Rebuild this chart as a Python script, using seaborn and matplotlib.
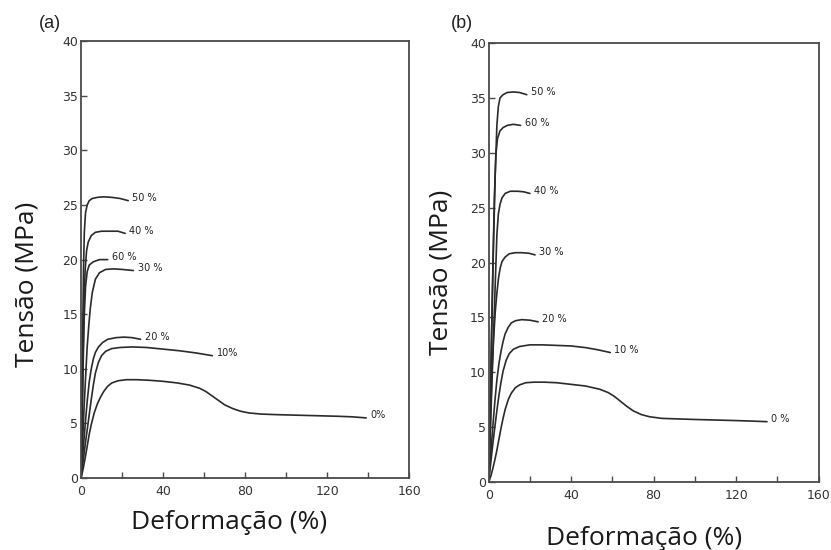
import matplotlib
matplotlib.use("Agg")
import matplotlib.pyplot as plt
import numpy as np
import pandas as pd
import seaborn as sns
from matplotlib.ticker import MultipleLocator

# ---- data (strain %, stress MPa) ----
# panel (a)
a_names = ["50 %", "40 %", "60 %", "30 %", "20 %", "10%", "0%"]
a_x = [
    [0, 0.4, 0.8, 1.2, 1.6, 2.2, 3, 4, 5.5, 8, 11, 15, 19, 23],
    [0, 0.5, 1, 1.5, 2, 2.7, 3.5, 5, 7, 10, 14, 18, 21.5],
    [0, 0.5, 1, 1.5, 2.2, 3, 4, 6, 9, 13],
    [0, 0.7, 1.5, 2.3, 3, 3.8, 4.5, 5.5, 7, 9, 12, 16, 20, 25.5],
    [0, 1, 2, 3, 4, 5, 6, 7, 8.5, 10.5, 13, 17, 21, 25, 29],
    [0, 1, 2, 3, 4, 5, 6, 7, 8.5, 10, 12, 15, 19, 25, 32, 40, 48, 56, 64],
    [0, 1, 2, 3, 4, 5, 6.5, 8, 9.5, 11, 13, 15, 18, 22, 27, 33, 40, 47, 53,
     58, 61, 64, 67, 70, 74, 78, 82, 88, 95, 105, 115, 125, 132, 139],
]
a_y = [
    [0, 6, 13, 19, 22.5, 24.3, 25.0, 25.4, 25.6, 25.7, 25.75, 25.7, 25.6, 25.4],
    [0, 5, 11, 16, 19, 20.8, 21.6, 22.2, 22.5, 22.6, 22.6, 22.6, 22.4],
    [0, 5, 10, 14.5, 17.5, 18.9, 19.5, 19.8, 20.0, 20.0],
    [0, 3, 6.5, 9.5, 12, 14, 15.5, 17, 18.2, 18.8, 19.1, 19.15, 19.1, 19.0],
    [0, 2.5, 4.8, 7, 8.8, 10, 10.9, 11.5, 12.0, 12.4, 12.7, 12.85, 12.9, 12.85, 12.7],
    [0, 1.5, 3, 4.4, 5.8, 7.2, 8.5, 9.6, 10.6, 11.2, 11.6, 11.85, 11.95, 12.0,
     11.95, 11.8, 11.65, 11.45, 11.2],
    [0, 0.8, 1.8, 2.9, 4.0, 4.9, 6.0, 6.8, 7.4, 7.9, 8.4, 8.7, 8.9, 9.0, 9.0,
     8.95, 8.85, 8.7, 8.5, 8.2, 7.9, 7.5, 7.1, 6.7, 6.35, 6.1, 5.95, 5.85, 5.8,
     5.75, 5.7, 5.65, 5.6, 5.5],
]

# panel (b)
b_names = ["50 %", "60 %", "40 %", "30 %", "20 %", "10 %", "0 %"]
b_x = [
    [0, 0.8, 1.6, 2.4, 3.2, 4, 4.7, 5.5, 7, 9, 12, 15, 18.5],
    [0, 0.7, 1.4, 2.1, 2.8, 3.5, 4.3, 5.5, 7, 9, 12, 15.5],
    [0, 0.8, 1.6, 2.4, 3.2, 4, 4.7, 5.5, 6.5, 8, 10.5, 14, 17, 20],
    [0, 0.8, 1.6, 2.4, 3.2, 4, 4.8, 5.6, 6.5, 8, 10, 13, 16, 19.5, 22.5],
    [0, 1, 2, 3, 4, 5, 6, 7, 8, 9.5, 11, 13, 16, 20, 24],
    [0, 1, 2, 3, 4, 5, 6, 7, 8.5, 10, 12, 15, 20, 26, 33, 40, 47, 53, 59],
    [0, 1, 2, 3, 4, 5, 6, 7, 8, 9.5, 11, 13, 15, 18, 22, 27, 33, 40, 47, 54,
     58, 61, 64, 67, 70, 74, 78, 84, 92, 100, 110, 120, 128, 135],
]
b_y = [
    [0, 7, 15, 22, 28, 32.5, 34.2, 35.0, 35.3, 35.5, 35.55, 35.5, 35.3],
    [0, 6, 13, 20, 26, 29.8, 31.3, 32.0, 32.3, 32.5, 32.6, 32.5],
    [0, 4.5, 9, 13.5, 18, 22.5, 24.4, 25.3, 25.9, 26.3, 26.5, 26.5, 26.45, 26.3],
    [0, 5, 10, 13, 15.5, 17.2, 18.6, 19.5, 20.1, 20.5, 20.8, 20.9, 20.9, 20.85, 20.7],
    [0, 2.5, 5, 7.3, 9.3, 10.8, 11.9, 12.8, 13.5, 14.1, 14.5, 14.7, 14.8, 14.75, 14.6],
    [0, 1.7, 3.4, 5.0, 6.5, 7.9, 9.1, 10.1, 11.1, 11.7, 12.1, 12.35, 12.5, 12.5,
     12.45, 12.4, 12.25, 12.05, 11.8],
    [0, 0.5, 1.2, 2.0, 2.9, 3.9, 4.9, 5.8, 6.6, 7.5, 8.1, 8.6, 8.85, 9.05, 9.1,
     9.1, 9.05, 8.9, 8.75, 8.45, 8.15, 7.8, 7.35, 6.9, 6.5, 6.15, 5.95, 5.8,
     5.75, 5.7, 5.65, 5.6, 5.55, 5.5],
]

x_ticks = [0, 40, 80, 120, 160]
y_ticks = [0, 5, 10, 15, 20, 25, 30, 35, 40]

sns.set_theme(style="white")
plt.rcParams["font.family"] = ["DejaVu Sans"]

LINE = "#2b2b2b"
FRAME = "#4a4a4a"


def to_frame(names, xs, ys):
    rows = []
    for n, xv, yv in zip(names, xs, ys):
        for a, b in zip(xv, yv):
            rows.append((n, a, b))
    return pd.DataFrame(rows, columns=["serie", "deformacao", "tensao"])


def draw_panel(ax, names, xs, ys):
    df = to_frame(names, xs, ys)
    sns.lineplot(data=df, x="deformacao", y="tensao", units="serie",
                 estimator=None, sort=False, color=LINE, lw=1.2, ax=ax)
    for n, xv, yv in zip(names, xs, ys):
        ax.annotate(n, (xv[-1], yv[-1]), xytext=(3, 2), textcoords="offset points",
                    fontsize=7, color="#222222", va="center", ha="left")
    ax.set_xlim(0, 160)
    ax.set_ylim(0, 40)
    ax.set_xticks(x_ticks)
    ax.set_yticks(y_ticks)
    ax.xaxis.set_minor_locator(MultipleLocator(20))
    ax.tick_params(axis="both", which="both", direction="in", length=4,
                   width=1, color=FRAME, labelsize=9, labelcolor="#333333",
                   bottom=True, left=True)
    ax.tick_params(axis="x", pad=5)
    ax.tick_params(axis="y", pad=2)
    for s in ax.spines.values():
        s.set_visible(True)
        s.set_color(FRAME)
        s.set_linewidth(1.3)
    ax.set_xlabel("Deformação (%)", fontsize=19, family=["Open Sans", "DejaVu Sans"],
                  color="#1a1a1a")
    ax.set_ylabel("Tensão (MPa)", fontsize=19, family=["Open Sans", "DejaVu Sans"],
                  color="#1a1a1a")
    ax.xaxis.label.set_va("center")
    ax.yaxis.label.set_va("center")


fig = plt.figure(figsize=(8.31, 5.5), dpi=100)
ax_a = fig.add_axes([0.0975, 0.131, 0.395, 0.794])
ax_b = fig.add_axes([0.588, 0.1236, 0.397, 0.798])

draw_panel(ax_a, a_names, a_x, a_y)
draw_panel(ax_b, b_names, b_x, b_y)

ax_a.xaxis.set_label_coords(0.45, -0.103)
ax_a.yaxis.set_label_coords(-0.165, 0.444)
ax_b.xaxis.set_label_coords(0.47, -0.128)
ax_b.yaxis.set_label_coords(-0.145, 0.478)

fig.text(50 / 831, 1 - 24 / 550, "(a)", fontsize=13, ha="center", va="center",
         family=["Liberation Sans", "DejaVu Sans"], color="#222222")
fig.text(462 / 831, 1 - 24 / 550, "(b)", fontsize=13, ha="center", va="center",
         family=["Liberation Sans", "DejaVu Sans"], color="#222222")

fig.savefig("out.png", dpi=100)
